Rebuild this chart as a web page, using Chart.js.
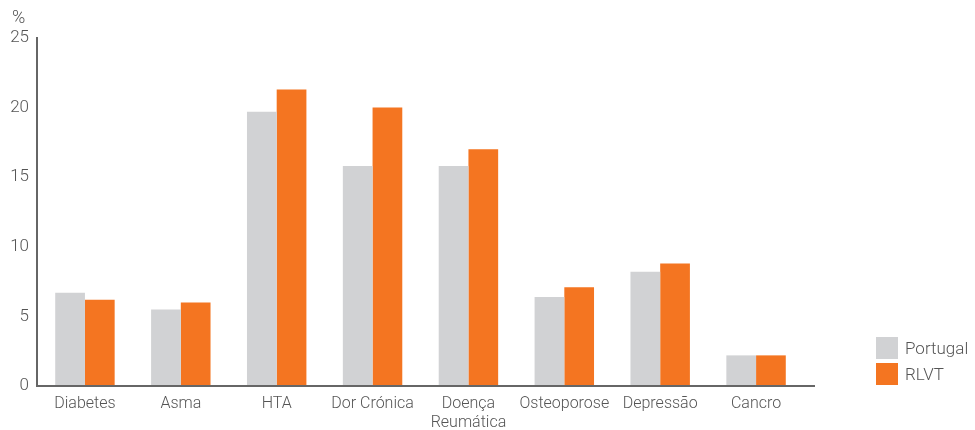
<!DOCTYPE html>
<html>
<head>
<meta charset="utf-8">
<script src="https://cdn.jsdelivr.net/npm/chart.js@4"></script>
<style>
  body { margin: 0; background: #fff; }
  #wrap { position: relative; width: 975px; height: 430px; }
  #legend { position: absolute; left: 876px; top: 337px; font-family: Roboto, sans-serif; font-weight: 300; font-size: 17px; color: #555; }
  .item { display: flex; align-items: center; height: 22px; margin-bottom: 4px; }
  .box { width: 22px; height: 22px; margin-right: 7px; }
</style>
</head>
<body>
<div id="wrap">
  <canvas id="myChart" width="975" height="430"></canvas>
  <div id="legend"></div>
</div>
<script>
const categories = ['Diabetes', 'Asma', 'HTA', 'Dor Crónica', ['Doença', 'Reumática'], 'Osteoporose', 'Depressão', 'Cancro'];
const portugal = [6.7, 5.5, 19.7, 15.8, 15.8, 6.4, 8.2, 2.2];
const rlvt = [6.2, 6.0, 21.3, 20.0, 17.0, 7.1, 8.8, 2.2];
const yTicks = [0, 5, 10, 15, 20, 25];

const grey = '#D1D2D4';
const orange = '#F47521';
const textColor = '#555';
const axisColor = '#666';
const font = { family: 'Roboto, sans-serif', size: 16, weight: 300, lineHeight: 1.2 };

// "%" unit above the y axis and an x axis line running a bit past the last bar
const extras = {
    id: 'extras',
    afterDraw(chart) {
        const ctx = chart.ctx;
        const area = chart.chartArea;
        ctx.save();
        ctx.strokeStyle = axisColor;
        ctx.lineWidth = 2;
        ctx.beginPath();
        ctx.moveTo(area.left - 1, area.bottom);
        ctx.lineTo(area.right + 11, area.bottom);
        ctx.stroke();
        ctx.font = '300 18px Roboto, sans-serif';
        ctx.fillStyle = textColor;
        ctx.textAlign = 'left';
        ctx.textBaseline = 'middle';
        ctx.fillText('%', 12, area.top - 20);
        ctx.restore();
    }
};

const ctx = document.getElementById('myChart').getContext('2d');
const myChart = new Chart(ctx, {
    type: 'bar',
    data: {
        labels: categories,
        datasets: [{
            label: 'Portugal',
            data: portugal,
            backgroundColor: grey
        }, {
            label: 'RLVT',
            data: rlvt,
            backgroundColor: orange
        }]
    },
    options: {
        responsive: false,
        animation: false,
        layout: { padding: { top: 38, right: 171, bottom: 0, left: 0 } },
        datasets: { bar: { categoryPercentage: 0.62, barPercentage: 1 } },
        plugins: {
            legend: { display: false },
            tooltip: { enabled: false }
        },
        scales: {
            x: {
                afterFit: scale => { scale.height = 44; },
                grid: { drawOnChartArea: false, drawTicks: false },
                border: { display: false },
                ticks: { color: textColor, font: font, padding: 8, maxRotation: 0, autoSkip: false }
            },
            y: {
                min: 0,
                max: 25,
                afterBuildTicks: scale => { scale.ticks = yTicks.map(v => ({ value: v })); },
                afterFit: scale => { scale.width = 37; },
                grid: { drawOnChartArea: false, drawTicks: false },
                border: { color: axisColor, width: 2 },
                ticks: { color: textColor, font: Object.assign({}, font, { size: 17 }), padding: 8 }
            }
        }
    },
    plugins: [extras]
});

// legend
const legend = document.getElementById('legend');
myChart.data.datasets.forEach(ds => {
    const item = document.createElement('div');
    item.className = 'item';
    item.innerHTML = '<span class="box" style="background:' + ds.backgroundColor + '"></span>' + ds.label;
    legend.appendChild(item);
});
</script>
</body>
</html>
